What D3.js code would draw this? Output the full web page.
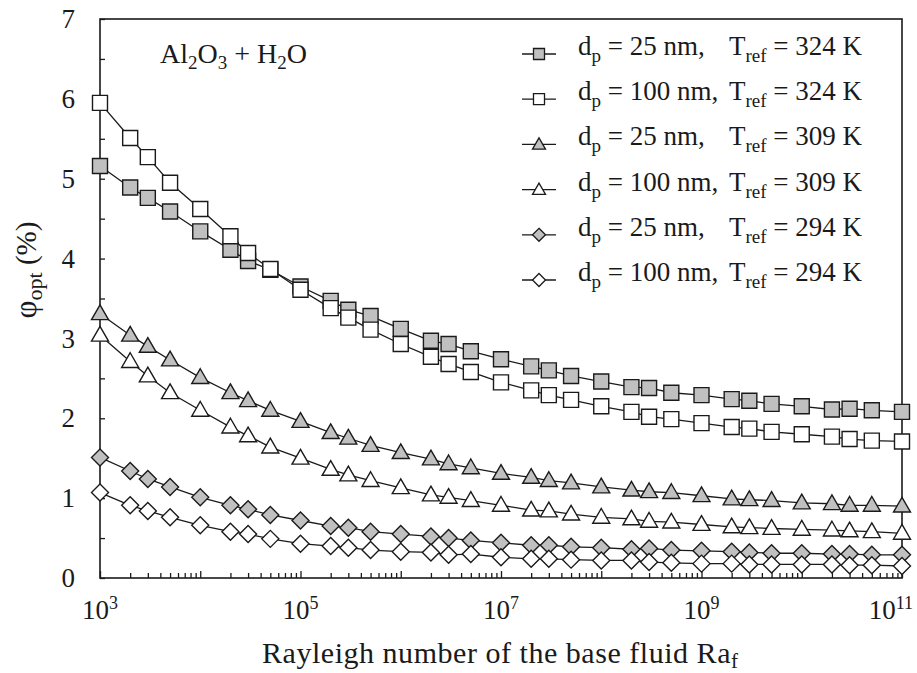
<!DOCTYPE html>
<html>
<head>
<meta charset="utf-8">
<script src="https://cdn.jsdelivr.net/npm/d3@7"></script>
<style>
  html, body { margin: 0; padding: 0; background: #fff; }
  svg { display: block; font-family: "Liberation Serif", "Times New Roman", serif; }
</style>
</head>
<body>
<svg id="chart" width="917" height="673"></svg>
<script>
// Rayleigh numbers of the base fluid (1, 2, 3, 5 per decade)
const rayleigh = [1e3, 2e3, 3e3, 5e3, 1e4, 2e4, 3e4, 5e4, 1e5, 2e5, 3e5, 5e5,
  1e6, 2e6, 3e6, 5e6, 1e7, 2e7, 3e7, 5e7, 1e8, 2e8, 3e8, 5e8,
  1e9, 2e9, 3e9, 5e9, 1e10, 2e10, 3e10, 5e10, 1e11];

// Optimal volume fraction φopt (%)
const phi25_324 = [5.16, 4.89, 4.76, 4.59, 4.34, 4.11, 3.97, 3.86, 3.65, 3.47, 3.36, 3.28,
  3.12, 2.97, 2.93, 2.84, 2.74, 2.65, 2.60, 2.53, 2.46, 2.39, 2.38, 2.32,
  2.29, 2.24, 2.22, 2.18, 2.15, 2.11, 2.12, 2.10, 2.08];
const phi100_324 = [5.95, 5.51, 5.27, 4.95, 4.62, 4.28, 4.07, 3.87, 3.61, 3.38, 3.26, 3.11,
  2.93, 2.77, 2.68, 2.58, 2.45, 2.35, 2.29, 2.23, 2.15, 2.08, 2.02, 1.99,
  1.94, 1.89, 1.87, 1.83, 1.80, 1.77, 1.74, 1.72, 1.71];
const phi25_309 = [3.31, 3.04, 2.90, 2.73, 2.51, 2.32, 2.22, 2.10, 1.96, 1.82, 1.75, 1.66,
  1.57, 1.49, 1.43, 1.38, 1.31, 1.26, 1.22, 1.19, 1.14, 1.10, 1.08, 1.07,
  1.03, 0.99, 0.98, 0.97, 0.94, 0.93, 0.91, 0.91, 0.90];
const phi100_309 = [3.04, 2.71, 2.53, 2.32, 2.10, 1.89, 1.78, 1.64, 1.50, 1.36, 1.29, 1.22,
  1.13, 1.04, 1.01, 0.97, 0.91, 0.85, 0.84, 0.80, 0.76, 0.74, 0.71, 0.70,
  0.67, 0.64, 0.63, 0.62, 0.61, 0.60, 0.59, 0.58, 0.56];
const phi25_294 = [1.51, 1.34, 1.24, 1.14, 1.01, 0.91, 0.86, 0.79, 0.72, 0.65, 0.63, 0.58,
  0.55, 0.52, 0.50, 0.47, 0.44, 0.41, 0.41, 0.39, 0.38, 0.36, 0.37, 0.35,
  0.34, 0.33, 0.32, 0.31, 0.31, 0.30, 0.30, 0.29, 0.29];
const phi100_294 = [1.07, 0.91, 0.84, 0.76, 0.66, 0.58, 0.55, 0.49, 0.43, 0.40, 0.38, 0.35,
  0.33, 0.32, 0.29, 0.30, 0.26, 0.24, 0.24, 0.23, 0.22, 0.22, 0.20, 0.19,
  0.18, 0.18, 0.17, 0.17, 0.17, 0.17, 0.16, 0.16, 0.15];

// Legend entries: particle diameter and reference temperature
const seriesDiam = ["25", "100", "25", "100", "25", "100"];
const seriesTref = ["324", "324", "309", "309", "294", "294"];
const seriesShape = ["square", "square", "triangle", "triangle", "diamond", "diamond"];
const seriesFilled = [true, false, true, false, true, false];
const seriesValues = [phi25_324, phi100_324, phi25_309, phi100_309, phi25_294, phi100_294];

const yTicks = d3.range(0, 7.01, 0.5);
const xLabelExponents = [3, 5, 7, 9, 11];

const W = 917, H = 673;
const margin = { left: 100, right: 15, top: 19, bottom: 95 };
const svg = d3.select("#chart");

const x = d3.scaleLog().domain([1e3, 1e11]).range([margin.left, W - margin.right]);
const y = d3.scaleLinear().domain([0, 7]).range([H - margin.bottom, margin.top]);

const ink = "#1a1a1a";
const grey = "#c0c0c0";

// Frame around the plot area
svg.append("rect")
  .attr("x", x.range()[0]).attr("y", y.range()[1])
  .attr("width", x.range()[1] - x.range()[0])
  .attr("height", y.range()[0] - y.range()[1])
  .attr("fill", "none").attr("stroke", ink).attr("stroke-width", 1.6);

// Bottom axis: minor and decade ticks pointing inward
const minorTicks = [];
for (let e = 3; e < 11; e++) for (let m = 2; m <= 9; m++) minorTicks.push(m * Math.pow(10, e));
const decadeTicks = d3.range(3, 12).map(e => Math.pow(10, e));

const gx = svg.append("g").attr("transform", `translate(0,${y(0)})`);
gx.append("g").call(d3.axisBottom(x).tickValues(minorTicks).tickSize(-5).tickFormat(""));
gx.append("g").call(d3.axisBottom(x).tickValues(decadeTicks).tickSize(-7).tickFormat(""));
gx.selectAll(".domain").remove();
gx.selectAll("line").attr("stroke", ink).attr("stroke-width", 1.3);

// Decade labels 10^n
const xLab = svg.append("g").attr("font-size", 27).attr("fill", ink);
xLabelExponents.forEach(e => {
  const t = xLab.append("text")
    .attr("x", x(Math.pow(10, e))).attr("y", y(0) + 41)
    .attr("text-anchor", "middle");
  t.append("tspan").text("10");
  t.append("tspan").attr("dy", -10).attr("font-size", 18).text(e);
  const bb = t.node().getBBox();
  if (bb.x + bb.width > W - 4) t.attr("x", +t.attr("x") - (bb.x + bb.width - (W - 4)));
});

// Left axis
const gy = svg.append("g").attr("transform", `translate(${x.range()[0]},0)`);
gy.call(d3.axisLeft(y).tickValues(yTicks).tickSize(-5).tickPadding(25)
  .tickFormat(d => Number.isInteger(d) ? d : ""));
gy.select(".domain").remove();
gy.selectAll("line").attr("stroke", ink).attr("stroke-width", 1.3);
gy.selectAll("text").attr("font-size", 27).attr("font-family", "Liberation Serif").attr("fill", ink);

// Marker shapes
function markerPath(shape, s) {
  if (shape === "square") return d3.symbol(d3.symbolSquare, s * s)();
  if (shape === "triangle") return d3.symbol(d3.symbolTriangle, s * s * Math.sqrt(3) / 4)();
  const h = s / 2;
  return `M0,${-h}L${h},0L0,${h}L${-h},0Z`;
}
const markerSize = { square: 15, triangle: 17, diamond: 17 };

const line = d3.line().x(d => x(d[0])).y(d => y(d[1]));

seriesValues.forEach((vals, i) => {
  const pts = rayleigh.map((r, k) => [r, vals[k]]);
  const g = svg.append("g");
  g.append("path").attr("d", line(pts))
    .attr("fill", "none").attr("stroke", ink).attr("stroke-width", 1.3);
  const shape = seriesShape[i];
  const p = markerPath(shape, markerSize[shape]);
  g.selectAll("path.m").data(pts).join("path").attr("class", "m")
    .attr("d", p)
    .attr("transform", d => `translate(${x(d[0])},${y(d[1]) + (shape === "triangle" ? 1 : 0)})`)
    .attr("fill", seriesFilled[i] ? grey : "#fff")
    .attr("stroke", ink).attr("stroke-width", 1.4);
});

// Legend
const legend = svg.append("g").attr("font-size", 27).attr("fill", ink);
const legendSize = { square: 11, triangle: 13, diamond: 13 };
seriesValues.forEach((_, i) => {
  const ry = 54 + i * 45.2;
  legend.append("line").attr("x1", 522).attr("x2", 556).attr("y1", ry).attr("y2", ry)
    .attr("stroke", ink).attr("stroke-width", 1.3);
  const shape = seriesShape[i];
  legend.append("path").attr("d", markerPath(shape, legendSize[shape]))
    .attr("transform", `translate(539,${ry + (shape === "triangle" ? 1 : 0)})`)
    .attr("fill", seriesFilled[i] ? grey : "#fff").attr("stroke", ink).attr("stroke-width", 1.3);
  const t1 = legend.append("text").attr("x", 578).attr("y", ry + 1);
  t1.append("tspan").text("d");
  t1.append("tspan").attr("dy", 7).attr("font-size", 19).text("p");
  t1.append("tspan").attr("dy", -7).text(` = ${seriesDiam[i]} nm,`);
  const t2 = legend.append("text").attr("x", 862).attr("y", ry + 1).attr("text-anchor", "end");
  t2.append("tspan").text("T");
  t2.append("tspan").attr("dy", 7).attr("font-size", 19).text("ref");
  t2.append("tspan").attr("dy", -7).text(` = ${seriesTref[i]} K`);
});

// Fluid annotation
const ann = svg.append("text").attr("x", 160).attr("y", 63).attr("font-size", 28).attr("fill", ink);
ann.append("tspan").text("Al");
ann.append("tspan").attr("dy", 6).attr("font-size", 19).text("2");
ann.append("tspan").attr("dy", -6).text("O");
ann.append("tspan").attr("dy", 6).attr("font-size", 19).text("3");
ann.append("tspan").attr("dy", -6).text(" + H");
ann.append("tspan").attr("dy", 6).attr("font-size", 19).text("2");
ann.append("tspan").attr("dy", -6).text("O");

// Axis titles
const xt = svg.append("text").attr("x", 500).attr("y", 663).attr("text-anchor", "middle")
  .attr("font-size", 30).attr("fill", ink)
  .attr("textLength", 476).attr("lengthAdjust", "spacing");
xt.append("tspan").text("Rayleigh number of the base fluid Ra");
xt.append("tspan").attr("dy", 5).attr("font-size", 21).text("f");

const yt = svg.append("text").attr("transform", "translate(36,270) rotate(-90)")
  .attr("text-anchor", "middle").attr("font-size", 29).attr("fill", ink);
yt.append("tspan").attr("font-size", 31).text("φ");
yt.append("tspan").attr("dy", 6).attr("font-size", 22).text("opt");
yt.append("tspan").attr("dy", -6).text(" (%)");
</script>
</body>
</html>
